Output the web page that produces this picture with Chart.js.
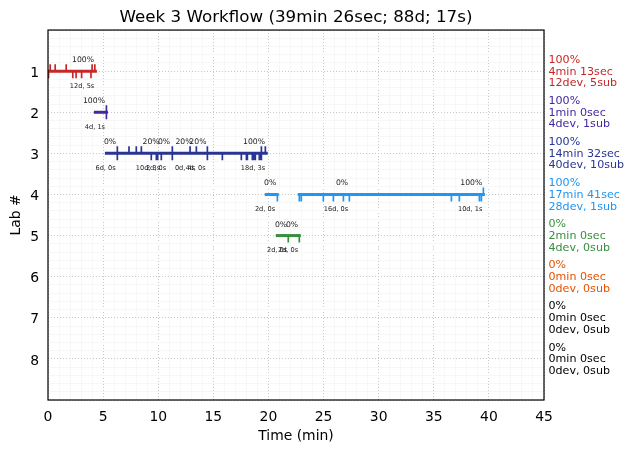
<!DOCTYPE html>
<html>
<head>
<meta charset="utf-8">
<title>Week 3 Workflow</title>
<script src="https://cdn.jsdelivr.net/npm/chart.js@4"></script>
<style>
    body { margin: 0; background: #fff; }
    canvas { display: block; }
</style>
</head>
<body>
<canvas id="workflowChart" width="634" height="453"></canvas>
<script>
// Lab rows and their summary text
const labNumbers = [1, 2, 3, 4, 5, 6, 7, 8];
const labColors = ['#c62828', '#4527a0', '#283593', '#2196f3', '#388e3c', '#e65100', '#000000', '#000000'];
const labPercents = ['100%', '100%', '100%', '100%', '0%', '0%', '0%', '0%'];
const labTimes = ['4min 13sec', '1min 0sec', '14min 32sec', '17min 41sec', '2min 0sec', '0min 0sec', '0min 0sec', '0min 0sec'];
const labCounts = ['12dev, 5sub', '4dev, 1sub', '40dev, 10sub', '28dev, 1sub', '4dev, 0sub', '0dev, 0sub', '0dev, 0sub', '0dev, 0sub'];

// Working stretches per lab, [start, end] in minutes
const lab1Runs = [[0, 4.3]];
const lab2Runs = [[4.3, 5.3]];
const lab3Runs = [[5.3, 19.8]];
const lab4Runs = [[19.8, 20.8], [22.8, 39.5]];
const lab5Runs = [[20.8, 22.8]];

// Event times per lab: up = above the line, down = below the line
const lab1Up = [0.2, 0.65, 1.65, 4.0, 4.25];
const lab1Down = [0.05, 2.25, 2.55, 3.05, 3.9];
const lab2Up = [5.3];
const lab2Down = [5.3];
const lab3Up = [6.29, 7.35, 8.01, 8.47, 11.28, 12.89, 13.46, 14.46, 19.36, 19.72];
const lab3Down = [6.29, 9.37, 9.83, 9.95, 10.28, 11.28, 14.46, 15.82, 17.54, 18.0, 18.09, 18.54, 18.69, 18.81, 19.17, 19.26, 19.36];
const lab4Up = [39.5];
const lab4Down = [20.81, 22.8, 22.98, 24.98, 25.89, 26.8, 27.34, 36.6, 37.32, 39.14, 39.32];
const lab5Down = [21.8, 22.8];

// Small annotations: [lab, minute, text]
const percentNotes = [
    [1, 3.18, '100%'], [2, 4.17, '100%'],
    [3, 5.63, '0%'], [3, 9.35, '20%'], [3, 10.53, '0%'], [3, 12.34, '20%'], [3, 13.6, '20%'], [3, 18.69, '100%'],
    [4, 20.15, '0%'], [4, 26.68, '0%'], [4, 38.4, '100%'],
    [5, 21.14, '0%'], [5, 22.14, '0%']
];
const countNotes = [
    [1, 3.09, '12d, 5s'], [2, 4.26, '4d, 1s'],
    [3, 5.22, '6d, 0s'], [3, 9.07, '10d, 3s'], [3, 9.8, '2d, 0s'], [3, 12.43, '0d, 4s'], [3, 13.38, '4d, 0s'], [3, 18.6, '18d, 3s'],
    [4, 19.69, '2d, 0s'], [4, 26.13, '16d, 0s'], [4, 38.3, '10d, 1s'],
    [5, 20.78, '2d, 0s'], [5, 21.78, '2d, 0s']
];

const tickReach = 0.17;

// Turn a list of [start, end] pairs into one broken line
function runPoints(lab, runs) {
    const points = [];
    runs.forEach(run => {
        points.push({ x: run[0], y: lab }, { x: run[1], y: lab }, { x: run[1], y: NaN });
    });
    return points;
}

// Turn event times into short vertical strokes
function tickPoints(lab, times, reach) {
    const points = [];
    times.forEach(t => {
        points.push({ x: t, y: lab }, { x: t, y: lab + reach }, { x: t, y: NaN });
    });
    return points;
}

function runDataset(lab, runs) {
    return {
        data: runPoints(lab, runs),
        borderColor: labColors[lab - 1],
        borderWidth: 3,
        borderCapStyle: 'square',
        showLine: true,
        pointRadius: 0
    };
}

function tickDataset(lab, times, reach) {
    return {
        data: tickPoints(lab, times, reach),
        borderColor: labColors[lab - 1],
        borderWidth: 1.7,
        showLine: true,
        pointRadius: 0
    };
}

// Text beside and around the timeline, plus the frame
const annotationPlugin = {
    id: 'annotations',
    afterDraw(chart) {
        const { ctx, scales, chartArea } = chart;
        ctx.save();
        ctx.textBaseline = 'middle';

        ctx.textAlign = 'left';
        ctx.font = '11.1px "DejaVu Sans"';
        labNumbers.forEach((lab, i) => {
            const y = scales.y.getPixelForValue(lab);
            ctx.fillStyle = labColors[i];
            ctx.fillText(labPercents[i], 548.5, y - 11.2);
            ctx.fillText(labTimes[i], 548.5, y + 0.5);
            ctx.fillText(labCounts[i], 548.5, y + 12.2);
        });

        ctx.textAlign = 'center';
        ctx.fillStyle = '#222';
        ctx.font = '7.7px "DejaVu Sans"';
        percentNotes.forEach(note => {
            ctx.fillText(note[2], scales.x.getPixelForValue(note[1]), scales.y.getPixelForValue(note[0]) - 11);
        });
        ctx.font = '6.6px "DejaVu Sans"';
        countNotes.forEach(note => {
            ctx.fillText(note[2], scales.x.getPixelForValue(note[1]), scales.y.getPixelForValue(note[0]) + 15);
        });

        ctx.strokeStyle = '#000';
        ctx.lineWidth = 1.2;
        ctx.strokeRect(chartArea.left, chartArea.top, chartArea.right - chartArea.left, chartArea.bottom - chartArea.top);
        ctx.restore();
    }
};

const isWhole = v => Math.abs(v - Math.round(v)) < 1e-6;

new Chart(document.getElementById('workflowChart').getContext('2d'), {
    type: 'scatter',
    data: {
        datasets: [
            tickDataset(1, lab1Up, -tickReach), tickDataset(1, lab1Down, tickReach), runDataset(1, lab1Runs),
            tickDataset(2, lab2Up, -tickReach), tickDataset(2, lab2Down, tickReach), runDataset(2, lab2Runs),
            tickDataset(3, lab3Up, -tickReach), tickDataset(3, lab3Down, tickReach), runDataset(3, lab3Runs),
            tickDataset(4, lab4Up, -tickReach), tickDataset(4, lab4Down, tickReach), runDataset(4, lab4Runs),
            tickDataset(5, lab5Down, tickReach), runDataset(5, lab5Runs)
        ]
    },
    options: {
        responsive: false,
        animation: false,
        layout: { padding: { right: 90, left: 0, top: 0, bottom: 0 } },
        plugins: {
            legend: { display: false },
            tooltip: { enabled: false },
            title: {
                display: true,
                text: 'Week 3 Workflow (39min 26sec; 88d; 17s)',
                color: '#000',
                fullSize: false,
                font: { family: '"DejaVu Sans"', size: 16.7, weight: 'normal', lineHeight: 1.2 },
                padding: { top: 7.5, bottom: 2.5 }
            }
        },
        scales: {
            x: {
                type: 'linear',
                min: 0,
                max: 45,
                afterFit: scale => { scale.height = 53; },
                title: {
                    display: true,
                    text: 'Time (min)',
                    color: '#000',
                    font: { family: '"DejaVu Sans"', size: 13.9 },
                    padding: { top: 4, bottom: 8 }
                },
                ticks: {
                    stepSize: 1,
                    autoSkip: false,
                    maxRotation: 0,
                    color: '#000',
                    padding: 9,
                    font: { family: '"DejaVu Sans"', size: 13.9 },
                    callback: v => (v % 5 === 0 ? String(v) : '')
                },
                border: {
                    display: false,
                    dash: ctx => (ctx.tick && ctx.tick.value % 5 === 0 ? [1, 2] : [])
                },
                grid: {
                    drawTicks: false,
                    lineWidth: 1,
                    color: ctx => (ctx.tick && ctx.tick.value % 5 === 0 ? '#c8c8c8' : '#f7f7f7')
                }
            },
            y: {
                type: 'linear',
                reverse: true,
                min: 0,
                max: 9,
                afterFit: scale => { scale.width = 48; },
                title: {
                    display: true,
                    text: 'Lab #',
                    color: '#000',
                    font: { family: '"DejaVu Sans"', size: 13.9 },
                    padding: { top: 8, bottom: 4 }
                },
                ticks: {
                    stepSize: 0.2,
                    autoSkip: false,
                    color: '#000',
                    padding: 9,
                    // the blank first line nudges the digit down to sit level with its row
                    font: { family: '"DejaVu Sans"', size: 13.9, lineHeight: 0.3 },
                    callback: v => (isWhole(v) && v > 0 && v < 9 ? ['', String(Math.round(v))] : '')
                },
                border: {
                    display: false,
                    dash: ctx => (ctx.tick && isWhole(ctx.tick.value) ? [1, 2] : [])
                },
                grid: {
                    drawTicks: false,
                    lineWidth: 1,
                    color: ctx => (ctx.tick && isWhole(ctx.tick.value) ? '#c8c8c8' : '#f7f7f7')
                }
            }
        }
    },
    plugins: [annotationPlugin]
});
</script>
</body>
</html>
